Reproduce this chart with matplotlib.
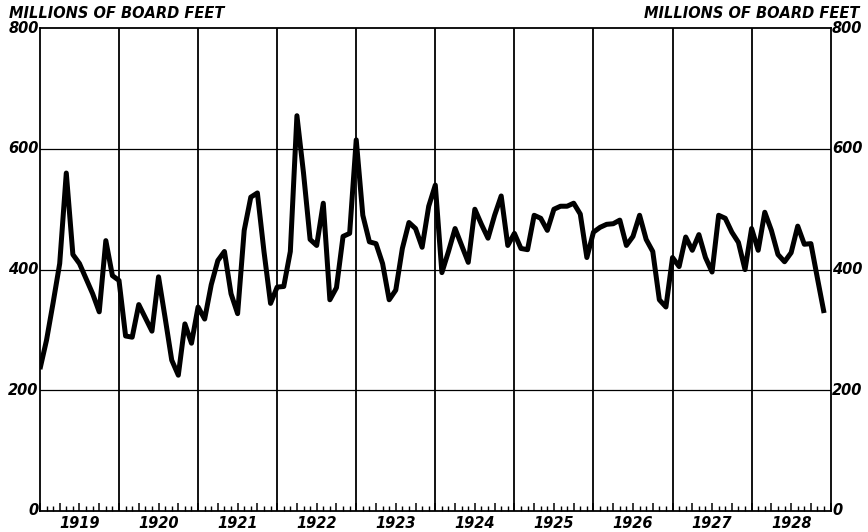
import matplotlib.pyplot as plt
import numpy as np

# monthly lumber figures, Jan 1919 - Dec 1928
years = [1919, 1920, 1921, 1922, 1923, 1924, 1925, 1926, 1927, 1928]
y_ticks = [0, 200, 400, 600, 800]
board_feet = [
    235, 283, 345, 410, 560, 425, 410, 385, 360, 330, 448, 390,   # 1919
    382, 290, 288, 342, 320, 298, 388, 320, 250, 225, 310, 278,   # 1920
    338, 318, 375, 415, 430, 360, 327, 465, 520, 527, 430, 344,   # 1921
    371, 372, 430, 655, 560, 450, 440, 510, 350, 370, 455, 460,   # 1922
    615, 490, 446, 443, 410, 350, 366, 435, 478, 468, 437, 505,   # 1923
    540, 395, 430, 468, 440, 412, 500, 475, 452, 490, 522, 440,   # 1924
    460, 435, 433, 490, 485, 465, 500, 505, 505, 510, 492, 420,   # 1925
    462, 470, 475, 476, 482, 440, 455, 490, 450, 430, 350, 338,   # 1926
    420, 405, 454, 432, 458, 420, 396, 490, 485, 462, 445, 400,   # 1927
    468, 432, 495, 465, 425, 413, 428, 472, 442, 443, 385, 328,   # 1928
]

fig = plt.figure(figsize=(8.68, 5.32), dpi=100)
ax = fig.add_axes([0.046, 0.0395, 0.911, 0.9075])

months = np.arange(len(board_feet))
ax.plot(months, board_feet, color='black', lw=3.6, solid_joinstyle='round',
        solid_capstyle='butt', zorder=3)

ax.set_xlim(0, 12 * len(years))
ax.set_ylim(0, 800)

# grid: year boundaries and every 200
for i in range(1, len(years)):
    ax.axvline(12 * i, color='black', lw=1.3, zorder=1)
for v in y_ticks[1:-1]:
    ax.axhline(v, color='black', lw=0.9, zorder=1)

for s in ax.spines.values():
    s.set_linewidth(1.3)

# small ticks pointing up from the bottom: quarters taller than months
ax.set_xticks(np.arange(0, 12 * len(years) + 1, 3))
ax.set_xticklabels([])
ax.set_xticks(np.arange(0, 12 * len(years) + 1, 1), minor=True)
ax.tick_params(axis='x', which='major', direction='in', length=6, width=1.1)
ax.tick_params(axis='x', which='minor', direction='in', length=3.5, width=1.0)
ax.set_yticks([])

fnt = dict(fontsize=10.5, fontweight='bold', style='italic', family='DejaVu Sans')
for i, yr in enumerate(years):
    ax.text(12 * i + 6, -8, str(yr), ha='center', va='top', **fnt)

for v in y_ticks:
    ax.text(-0.2, v, str(v), ha='right', va='center', **fnt)
    ax.text(12 * len(years) + 0.2, v, str(v), ha='left', va='center', **fnt)

ax.text(-4.7, 812, 'MILLIONS OF BOARD FEET', ha='left', va='bottom',
        fontsize=10.5, fontweight='bold', style='italic', family='DejaVu Sans')
ax.text(124.3, 812, 'MILLIONS OF BOARD FEET', ha='right', va='bottom',
        fontsize=10.5, fontweight='bold', style='italic', family='DejaVu Sans')

fig.savefig('out.png', dpi=100)
